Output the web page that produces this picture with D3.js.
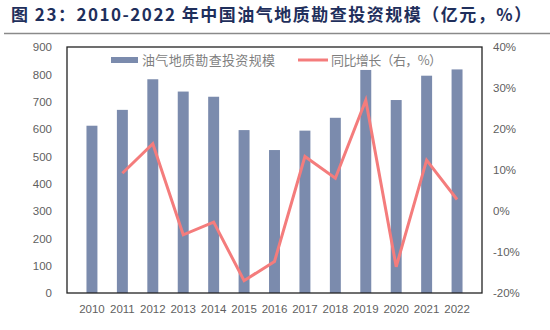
<!DOCTYPE html>
<html>
<head>
<meta charset="utf-8">
<script src="https://cdn.jsdelivr.net/npm/d3@7"></script>
<style>
  html, body { margin: 0; padding: 0; background: #fff; }
  svg { display: block; font-family: "Liberation Sans", "Noto Sans CJK SC", sans-serif; }
</style>
</head>
<body>
<svg id="chart" width="550" height="330"></svg>
<script>
// Years, investment (亿元) and year-on-year growth (%)
const years = ["2010","2011","2012","2013","2014","2015","2016","2017","2018","2019","2020","2021","2022"];
const investment = [612, 670, 782, 737, 718, 596, 523, 594, 641, 816, 706, 795, 818];
const growth = [null, 9.2, 16.4, -5.8, -2.7, -17.0, -12.3, 13.3, 8.0, 27.0, -13.6, 12.4, 2.8];
const leftTicks = [0, 100, 200, 300, 400, 500, 600, 700, 800, 900];
const rightTicks = [-20, -10, 0, 10, 20, 30, 40];

const svg = d3.select("#chart");
const m = { left: 67, right: 482, top: 47, bottom: 293 };
const barColor = "#7b8bad";
const lineColor = "#f47c7c";
const textColor = "#5f5f5f";

// Title and rule
svg.append("text")
  .attr("x", 11).attr("y", 21)
  .attr("font-size", 17).attr("font-weight", "bold")
  .attr("letter-spacing", 1.5)
  .attr("fill", "#1f2f5c")
  .attr("font-family", "'Noto Sans CJK SC', sans-serif")
  .text("图 23：2010-2022 年中国油气地质勘查投资规模（亿元，%）");
svg.append("line")
  .attr("x1", 4).attr("x2", 550).attr("y1", 33.5).attr("y2", 33.5)
  .attr("stroke", "#8a8a8a").attr("stroke-width", 1.5);

const x = d3.scaleBand().domain(years).range([m.left, m.right]).padding(0.64);
const yL = d3.scaleLinear().domain([0, 900]).range([m.bottom, m.top]);
const yR = d3.scaleLinear().domain([-20, 40]).range([m.bottom, m.top]);

// Bars
svg.append("g").selectAll("rect").data(years).join("rect")
  .attr("x", d => x(d))
  .attr("width", x.bandwidth())
  .attr("y", (d, i) => yL(investment[i]))
  .attr("height", (d, i) => yL(0) - yL(investment[i]))
  .attr("fill", barColor);

// Growth line
const line = d3.line()
  .defined(d => d.v !== null)
  .x(d => x(d.k) + x.bandwidth() / 2)
  .y(d => yR(d.v));
svg.append("path")
  .datum(years.map((k, i) => ({ k, v: growth[i] })))
  .attr("d", line)
  .attr("fill", "none")
  .attr("stroke", lineColor)
  .attr("stroke-width", 3)
  .attr("stroke-linejoin", "miter");

// Frame
svg.append("rect")
  .attr("x", m.left).attr("y", m.top)
  .attr("width", m.right - m.left).attr("height", m.bottom - m.top)
  .attr("fill", "none").attr("stroke", "#222").attr("stroke-width", 1.3);

// Axes
const axisStyle = g => {
  g.select(".domain").remove();
  g.selectAll(".tick line").remove();
  g.selectAll("text").attr("fill", textColor).attr("font-size", 11.5);
};
svg.append("g")
  .attr("transform", `translate(${m.left - 15},0)`)
  .call(d3.axisLeft(yL).tickValues(leftTicks).tickSize(0).tickPadding(0))
  .call(axisStyle);
svg.append("g")
  .attr("transform", `translate(${m.right + 11},0)`)
  .call(d3.axisRight(yR).tickValues(rightTicks).tickSize(0).tickPadding(0).tickFormat(d => d + "%"))
  .call(axisStyle);
svg.append("g")
  .attr("transform", `translate(0,${m.bottom + 12})`)
  .call(d3.axisBottom(x).tickSize(0).tickPadding(0))
  .call(axisStyle);

// Legend
const lg = svg.append("g").attr("font-size", 13).attr("fill", "#7f7f7f")
  .attr("font-family", "'Noto Sans CJK SC', sans-serif");
lg.append("rect").attr("x", 111).attr("y", 57).attr("width", 27).attr("height", 6).attr("fill", barColor);
lg.append("text").attr("x", 142).attr("y", 64.5)
  .attr("textLength", 133).attr("lengthAdjust", "spacing")
  .text("油气地质勘查投资规模");
lg.append("line").attr("x1", 298).attr("x2", 328).attr("y1", 60).attr("y2", 60)
  .attr("stroke", lineColor).attr("stroke-width", 3);
lg.append("text").attr("x", 331).attr("y", 64.5)
  .attr("textLength", 111).attr("lengthAdjust", "spacing")
  .text("同比增长（右，%）");
</script>
</body>
</html>
